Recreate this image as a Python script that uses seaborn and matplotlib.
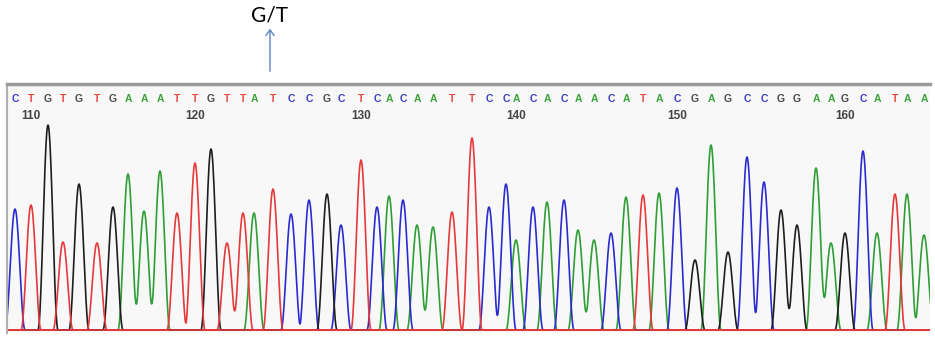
import numpy as np
import pandas as pd
import matplotlib
matplotlib.use("Agg")
import matplotlib.pyplot as plt
import seaborn as sns

# Base calls and the peaks
bases = list("CTGTGTGAAATTGTTATCCGCTCACAATTCCACACAACATACGAGCCGGAAGCATAA")
peak_pos = [15, 31, 48, 63, 79, 97, 113, 128, 144, 160, 177, 195, 211, 227,
            243, 254, 273, 291, 309, 327, 341, 361, 377, 389, 403, 417, 433,
            452, 472, 489, 506, 516, 533, 547, 564, 578, 594, 611, 626, 643,
            659, 677, 695, 711, 728, 747, 764, 781, 797, 816, 831, 845, 863,
            877, 895, 907, 924]
peak_height = [121, 125, 205, 88, 146, 87, 123, 156, 119, 159, 117, 167, 181, 87,
               117, 117, 141, 116, 130, 136, 105, 170, 123, 134, 130, 105, 103,
               118, 192, 123, 146, 90, 123, 128, 130, 100, 90, 97, 133, 135,
               137, 142, 70, 185, 78, 173, 148, 120, 105, 162, 87, 97, 179,
               97, 136, 136, 95]
first_base_number = 109
tick_numbers = [110, 120, 130, 140, 150, 160]

trace_colors = {"A": "#2f9e35", "C": "#2b2bcf", "G": "#1e1e1e", "T": "#e5393a"}
letter_colors = {"A": "#3aa33a", "C": "#3c3cc8", "G": "#4a4a4a", "T": "#e8443e"}

df = pd.DataFrame({"base": bases, "pos": peak_pos, "height": peak_height})

# Each channel is a sum of raised-cosine peaks
grid = np.arange(0, 935, 0.5)
half_w = 10.0
traces = []
for b in "ACGT":
    sub = df[df["base"] == b]
    y = np.zeros_like(grid, dtype=float)
    for p, h in zip(sub["pos"], sub["height"]):
        d = np.abs(grid - p)
        y += np.where(d < half_w, h * np.cos(np.pi * d / (2 * half_w)) ** 2, 0)
    traces.append(pd.DataFrame({"x": grid, "y": y, "base": b}))
trace_df = pd.concat(traces)

sns.set_theme(style="white")
plt.rcParams["font.family"] = ["Liberation Sans", "DejaVu Sans"]

fig = plt.figure(figsize=(9.35, 3.39), dpi=100)
ax = fig.add_axes([7 / 935, 6 / 339, 923 / 935, 249 / 339])
ax.set_facecolor("#f8f8f8")

for b in "ACGT":
    sns.lineplot(data=trace_df[trace_df["base"] == b], x="x", y="y",
                 color=trace_colors[b], linewidth=1.2, ax=ax, legend=False)

ax.axhline(0, color="#e5393a", linewidth=1.2)

# Base letters and position numbers along the top
for i, row in df.iterrows():
    ax.text(row["pos"], 231, row["base"], ha="center", va="center",
            fontsize=7.5, fontweight="bold", color=letter_colors[row["base"]])
    n = first_base_number + i
    if n in tick_numbers:
        ax.text(row["pos"], 214, str(n), ha="center", va="center",
                fontsize=8.5, fontweight="bold", color="#444444")

ax.set_xlim(7, 930)
ax.set_ylim(-3, 246)
ax.set_xticks([])
ax.set_yticks([])
ax.set_xlabel("")
ax.set_ylabel("")
for side in ["right", "bottom"]:
    ax.spines[side].set_visible(False)
ax.spines["top"].set_color("#9a9a9a")
ax.spines["top"].set_linewidth(2.5)
ax.spines["left"].set_color("#b0b0b0")
ax.spines["left"].set_linewidth(1.5)

# Variant annotation above the chromatogram
fig.text(270 / 935, 1 - 15 / 339, "G/T", ha="center", va="center",
         fontsize=15, family=["Lato", "DejaVu Sans"], color="black")
fig.add_artist(matplotlib.patches.FancyArrowPatch(
    (270 / 935, 1 - 74 / 339), (270 / 935, 1 - 26 / 339),
    transform=fig.transFigure, arrowstyle="->,head_length=4,head_width=3",
    color="#5b84c4", linewidth=1.0))

fig.savefig("out.png", dpi=100)
